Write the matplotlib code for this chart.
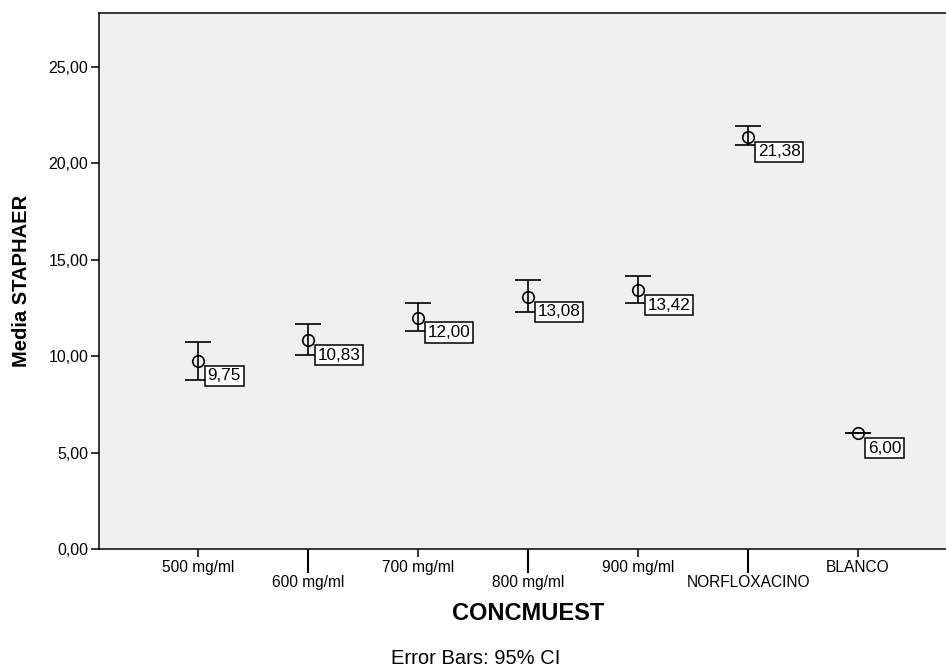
import matplotlib
matplotlib.use("Agg")
import matplotlib.pyplot as plt
from matplotlib.ticker import FixedLocator

plt.rcParams['font.family'] = ['Liberation Sans', 'DejaVu Sans']

# Group means of STAPHAER with 95% confidence limits
categories = ["500 mg/ml", "600 mg/ml", "700 mg/ml", "800 mg/ml",
              "900 mg/ml", "NORFLOXACINO", "BLANCO"]
means = [9.75, 10.83, 12.00, 13.08, 13.42, 21.38, 6.00]
ci_low = [8.78, 10.06, 11.31, 12.28, 12.74, 20.97, 6.00]
ci_high = [10.75, 11.65, 12.78, 13.95, 14.14, 21.92, 6.00]
y_ticks = [0, 5, 10, 15, 20, 25]

W, H = 946, 668
fig = plt.figure(figsize=(W / 100, H / 100), dpi=100)
fig.patch.set_facecolor("white")

left, right, top, bottom = 99, 957, 13, 549
ax = fig.add_axes([left / W, 1 - bottom / H, (right - left) / W, (bottom - top) / H])
ax.set_facecolor("#f0f0f0")

x = list(range(len(categories)))
err_lo = [m - l for m, l in zip(means, ci_low)]
err_hi = [h - m for m, h in zip(means, ci_high)]

ax.errorbar(x, means, yerr=[err_lo, err_hi], fmt="none", ecolor="black",
            elinewidth=1.2, capsize=9.7, capthick=1.2, zorder=3)
ax.plot(x, means, linestyle="none", marker="o", markersize=8.3,
        markerfacecolor="none", markeredgecolor="black", markeredgewidth=1.2,
        zorder=4)

for xi, m in zip(x, means):
    ax.annotate(f"{m:.2f}".replace(".", ","), xy=(xi, m),
                xytext=(7.0, -5.3), textcoords="offset points",
                ha="left", va="top", fontsize=12.3, color="black",
                bbox=dict(boxstyle="square,pad=0.15", fc="white", ec="black", lw=1.1),
                zorder=5)

ax.set_xlim(-0.9, len(categories) - 0.1)
ax.set_ylim(0, 27.8)

ax.set_yticks(y_ticks)
ax.set_yticklabels([f"{v:.2f}".replace(".", ",") for v in y_ticks], fontsize=11.5)
ax.tick_params(axis="y", direction="out", length=5.8, width=1.1, pad=2, colors="black")

# staggered category labels: even positions on the upper row, odd on the lower row
major_pos = x[0::2]
minor_pos = x[1::2]
ax.xaxis.set_major_locator(FixedLocator(major_pos))
ax.xaxis.set_minor_locator(FixedLocator(minor_pos))
ax.set_xticklabels([categories[i] for i in major_pos], fontsize=11.2)
ax.set_xticklabels([categories[i] for i in minor_pos], minor=True, fontsize=11.2)
ax.tick_params(axis="x", which="major", direction="out", length=5.8, width=1.1, pad=2)
ax.tick_params(axis="x", which="minor", direction="out", length=17.3, width=1.5, pad=1.5)

for side in ("left", "bottom", "top"):
    ax.spines[side].set_linewidth(1.1)
    ax.spines[side].set_color("black")
ax.spines["right"].set_visible(False)

ax.set_ylabel("Media STAPHAER", fontsize=14.5, fontweight="bold")
ax.yaxis.set_label_coords(-(left - 31) / (right - left), 0.5)
ax.set_xlabel("CONCMUEST", fontsize=17, fontweight="bold")
ax.xaxis.set_label_coords(0.5, -(602 - bottom) / (bottom - top))

fig.text(476 / W, 1 - 664 / H, "Error Bars: 95% CI", ha="center", va="baseline",
         fontsize=14.5)

fig.savefig("out.png", dpi=100)
